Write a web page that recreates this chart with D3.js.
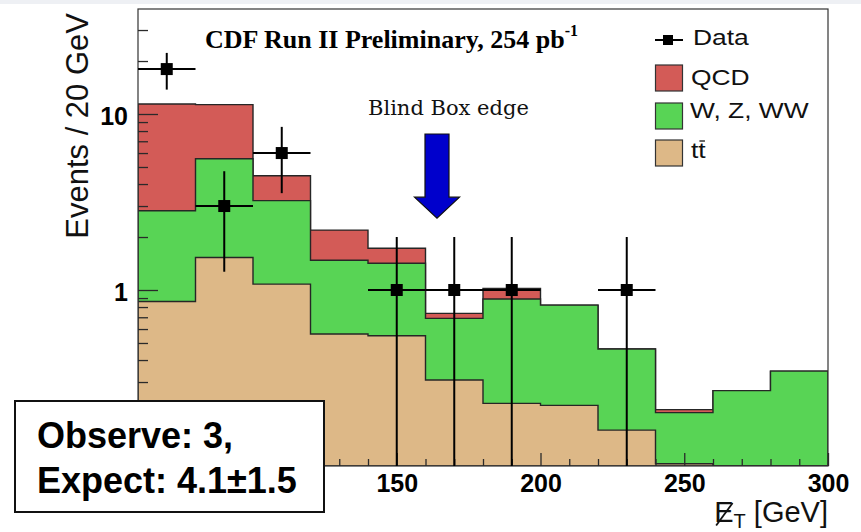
<!DOCTYPE html>
<html>
<head>
<meta charset="utf-8">
<script src="https://cdn.jsdelivr.net/npm/d3@7"></script>
<style>
  html, body { margin: 0; padding: 0; background: #ffffff; }
  svg { display: block; }
</style>
</head>
<body>
<svg id="chart" width="861" height="532"></svg>
<script>
// Missing transverse energy spectrum, 20 GeV bins from 60 to 300 GeV
const binLow   = [60, 80, 100, 120, 140, 160, 180, 200, 220, 240, 260, 280];
const binWidth = 20;

// Background expectations per bin (events / 20 GeV)
const ttbar = [0.86, 1.53, 1.08, 0.562, 0.55, 0.308, 0.227, 0.221, 0.160, 0.103, 0, 0];
const wzww  = [1.96, 4.04, 2.14, 0.913, 0.87, 0.382, 0.662, 0.599, 0.302, 0.098, 0.268, 0.346];
const qcd   = [8.58, 5.73, 1.24, 0.715, 0.306, 0.047, 0.131, 0, 0, 0.008, 0, 0];

// Observed events (bin centre, count, statistical error)
const dataX   = [70, 90, 110, 150, 170, 190, 230];
const dataN   = [18, 3, 6, 1, 1, 1, 1];
const dataErr = [4.24, 1.73, 2.45, 1, 1, 1, 1];

// Axis ticks (labelled ones, and those left unlabelled under the result box)
const xMajorTicks = [100, 150, 200, 250, 300];
const xLabelled   = [150, 200, 250, 300];
const xMinorTicks = [70, 80, 90, 110, 120, 130, 140, 160, 170, 180, 190, 210, 220, 230, 240, 260, 270, 280, 290];
const yMajorTicks = [0.1, 1, 10];
const yLabelled   = [1, 10];
const yMinorTicks = [0.2, 0.3, 0.4, 0.5, 0.6, 0.7, 0.8, 0.9, 2, 3, 4, 5, 6, 7, 8, 9, 20, 30];

// Blind box edge arrow (GeV, tail and tip heights in events)
const arrowX = 164, arrowTail = 7.7, arrowTip = 2.56;

const legendLabels = ["Data", "QCD", "W, Z, WW", "tt"];

const colors = { qcd: "#d35b57", wzww: "#58d455", ttbar: "#ddb887" };

const svg = d3.select("#chart");
const W = 861, H = 532;
const plotL = 138, plotR = 828, plotT = 9, plotB = 466;

const x = d3.scaleLinear().domain([60, 300]).range([plotL, plotR]);
const y = d3.scaleLog().domain([0.1, 39.5]).range([plotB, plotT]);
const yc = v => y(Math.max(v, 0.1));

// faint band along the top edge
svg.append("rect").attr("x", 0).attr("y", 0).attr("width", W).attr("height", 4).attr("fill", "#eef0f4");

// ---- stacked histogram ----
const rows = binLow.map((lo, i) => ({ lo, ttbar: ttbar[i], wzww: wzww[i], qcd: qcd[i] }));
const stack = d3.stack().keys(["ttbar", "wzww", "qcd"]);
const layers = stack(rows);

svg.append("clipPath").attr("id", "frameClip")
  .append("rect").attr("x", plotL).attr("y", plotT).attr("width", plotR - plotL).attr("height", plotB - plotT);

const area = d3.area()
  .x(p => x(p.x))
  .y0(p => yc(p.y0))
  .y1(p => yc(p.y1));

// cumulative histograms, each filled down to the axis
const cumulative = layers.map(layer => {
  const pts = [];
  layer.forEach(d => {
    pts.push({ x: d.data.lo, y0: 0, y1: d[1] });
    pts.push({ x: d.data.lo + binWidth, y0: 0, y1: d[1] });
  });
  return { key: layer.key, pts };
});

const histG = svg.append("g").attr("clip-path", "url(#frameClip)");
cumulative.slice().reverse().forEach(c => {
  histG.append("path")
    .attr("d", area(c.pts))
    .attr("fill", colors[c.key])
    .attr("stroke", "#262626")
    .attr("stroke-width", 1.4)
    .attr("stroke-linejoin", "miter");
});

// ---- frame ----
svg.append("rect")
  .attr("x", plotL).attr("y", plotT)
  .attr("width", plotR - plotL).attr("height", plotB - plotT)
  .attr("fill", "none").attr("stroke", "#333").attr("stroke-width", 1.2);

// ---- axes ----
const sansFont = "'Liberation Sans', Arial, Helvetica, sans-serif";
const fmtY = d => yLabelled.includes(d) ? d3.format("~g")(d) : "";
const fmtX = d => xLabelled.includes(d) ? d3.format("d")(d) : "";

const yAxis = svg.append("g").attr("transform", `translate(${plotL},0)`)
  .call(d3.axisLeft(y).tickValues(yMajorTicks).tickFormat(fmtY)
    .tickSizeInner(-20).tickSizeOuter(0).tickPadding(10));
svg.append("g").attr("transform", `translate(${plotL},0)`)
  .call(d3.axisLeft(y).tickValues(yMinorTicks).tickFormat("")
    .tickSizeInner(-10).tickSizeOuter(0));

svg.append("g").attr("transform", `translate(0,${plotB})`)
  .call(d3.axisBottom(x).tickValues(xMajorTicks).tickFormat(fmtX)
    .tickSizeInner(-13).tickSizeOuter(0).tickPadding(8));
svg.append("g").attr("transform", `translate(0,${plotB})`)
  .call(d3.axisBottom(x).tickValues(xMinorTicks).tickFormat("")
    .tickSizeInner(-7).tickSizeOuter(0));

svg.selectAll(".domain").remove();
svg.selectAll(".tick line").attr("stroke", "#2a2a2a").attr("stroke-width", 1.3);
svg.selectAll(".tick text")
  .attr("font-family", sansFont).attr("font-weight", "bold")
  .attr("font-size", 25).attr("fill", "#000");
svg.selectAll(".tick text").filter(function () { return this.textContent === ""; }).remove();
yAxis.selectAll(".tick text").attr("dy", "0.42em");

// y axis title
svg.append("text")
  .attr("transform", "translate(88,13) rotate(-90)")
  .attr("text-anchor", "end")
  .attr("font-family", sansFont).attr("font-size", 31).attr("fill", "#111")
  .text("Events / 20 GeV");

// x axis title: missing E_T [GeV]
const xt = svg.append("text")
  .attr("x", 828).attr("y", 522)
  .attr("text-anchor", "end")
  .attr("font-family", sansFont).attr("font-size", 29).attr("fill", "#111");
xt.append("tspan").text("E");
xt.append("tspan").attr("font-size", 20).attr("dy", 6).text("T");
xt.append("tspan").attr("dy", -6).text(" [GeV]");
{
  const ext = xt.node().getExtentOfChar(0);
  svg.append("line")
    .attr("x1", ext.x + ext.width * 0.95).attr("y1", ext.y + ext.height * 0.22)
    .attr("x2", ext.x + ext.width * 0.1).attr("y2", ext.y + ext.height * 0.92)
    .attr("stroke", "#111").attr("stroke-width", 1.8);
}

// ---- data points ----
const dataG = svg.append("g").attr("clip-path", "url(#frameClip)");
dataX.forEach((cx, i) => {
  const n = dataN[i], e = dataErr[i];
  dataG.append("line")
    .attr("x1", x(cx - binWidth / 2)).attr("x2", x(cx + binWidth / 2))
    .attr("y1", y(n)).attr("y2", y(n))
    .attr("stroke", "#000").attr("stroke-width", 2);
  dataG.append("line")
    .attr("x1", x(cx)).attr("x2", x(cx))
    .attr("y1", y(n + e)).attr("y2", yc(n - e))
    .attr("stroke", "#000").attr("stroke-width", 2);
  dataG.append("rect")
    .attr("x", x(cx) - 6).attr("y", y(n) - 6)
    .attr("width", 12).attr("height", 12)
    .attr("fill", "#000");
});

// ---- annotations ----
const title = svg.append("text")
  .attr("x", 205).attr("y", 48)
  .attr("font-family", "'Liberation Serif', 'Times New Roman', serif")
  .attr("font-weight", "bold").attr("font-size", 26).attr("fill", "#000");
title.append("tspan").text("CDF Run II Preliminary, 254 pb");
title.append("tspan").attr("font-size", 16).attr("dy", -12).text("-1");

svg.append("text")
  .attr("x", 368).attr("y", 115)
  .attr("font-family", "'DejaVu Serif', serif")
  .attr("font-size", 21).attr("fill", "#111")
  .text("Blind Box edge");

{
  const ax = x(arrowX), yt = y(arrowTail), yp = y(arrowTip);
  const shaftHalf = 12, headHalf = 22.5, headLen = 21;
  const yh = yp - headLen;
  const pts = [
    [ax - shaftHalf, yt], [ax + shaftHalf, yt], [ax + shaftHalf, yh],
    [ax + headHalf, yh], [ax, yp], [ax - headHalf, yh], [ax - shaftHalf, yh]
  ];
  svg.append("path")
    .attr("d", d3.line()(pts) + "Z")
    .attr("fill", "#0000cc").attr("stroke", "#111").attr("stroke-width", 1.2);
}

// ---- legend ----
const lg = svg.append("g");
const legendBaselines = [45, 85, 118, 158];
const legendTextX = [693, 691, 690, 691];
const stretch = 1.2;
// data entry
lg.append("line").attr("x1", 655).attr("x2", 683).attr("y1", 40).attr("y2", 40)
  .attr("stroke", "#000").attr("stroke-width", 2);
lg.append("rect").attr("x", 663).attr("y", 35).attr("width", 10).attr("height", 10).attr("fill", "#000");
// filled entries
[["qcd", 65], ["wzww", 103], ["ttbar", 140]].forEach(([k, yy]) => {
  lg.append("rect").attr("x", 655.5).attr("y", yy).attr("width", 27).attr("height", 26)
    .attr("fill", colors[k]).attr("stroke", "#333").attr("stroke-width", 1.2);
});
legendLabels.forEach((lab, i) => {
  const t = lg.append("text")
    .attr("transform", `translate(${legendTextX[i]},${legendBaselines[i]}) scale(${stretch},1)`)
    .attr("font-family", sansFont).attr("font-size", 22).attr("fill", "#111")
    .text(lab);
  if (i === 3) {
    // bar over the second t (antitop)
    const ext = t.node().getExtentOfChar(1);
    const x0 = legendTextX[i] + ext.x * stretch, w = ext.width * stretch;
    lg.append("line")
      .attr("x1", x0 + w * 0.15).attr("x2", x0 + w * 0.9)
      .attr("y1", legendBaselines[i] - 17).attr("y2", legendBaselines[i] - 17)
      .attr("stroke", "#111").attr("stroke-width", 1.3);
  }
});

// ---- result box ----
svg.append("rect")
  .attr("x", 15).attr("y", 401).attr("width", 309).attr("height", 111)
  .attr("fill", "#fff").attr("stroke", "#111").attr("stroke-width", 2);
svg.append("text").attr("x", 37).attr("y", 448)
  .attr("font-family", sansFont).attr("font-weight", "bold").attr("font-size", 36).attr("fill", "#000")
  .text("Observe: 3,");
svg.append("text").attr("x", 37).attr("y", 493)
  .attr("font-family", sansFont).attr("font-weight", "bold").attr("font-size", 36).attr("fill", "#000")
  .text("Expect: 4.1±1.5");
</script>
</body>
</html>
